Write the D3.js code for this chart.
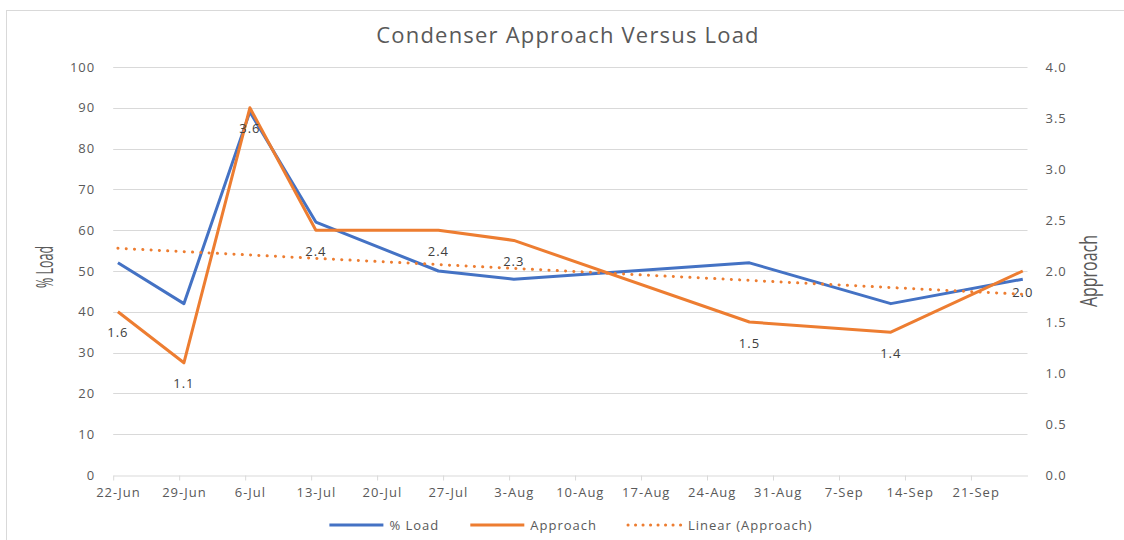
<!DOCTYPE html>
<html>
<head>
<meta charset="utf-8">
<script src="https://cdn.jsdelivr.net/npm/d3@7"></script>
<style>
  html, body { margin: 0; padding: 0; background: #fff; }
  text { font-family: "Open Sans", sans-serif; fill: #595959; }
  .tick line { stroke: #d9d9d9; }
  .grid line { stroke: #d9d9d9; stroke-width: 1; }
  .axis-title { font-family: "Open Sans", sans-serif; }
</style>
</head>
<body>
<svg id="chart" width="1124" height="540"></svg>
<script>
// Condenser approach vs load, weekly readings

// Data
var dates = [ '2021-06-22', '2021-06-29', '2021-07-06', '2021-07-13', '2021-07-26',
  '2021-08-03', '2021-08-28', '2021-09-12', '2021-09-26' ];
var loadPct = [ 52, 42, 89, 62, 50, 48, 52, 42, 48 ];
var approach = [ 1.6, 1.1, 3.6, 2.4, 2.4, 2.3, 1.5, 1.4, 2.0 ];
var axisStart = '2021-06-22';
var axisEnd = '2021-09-27';
var leftTicks = d3.range( 0, 101, 10 );
var rightTicks = d3.range( 0, 4.01, 0.5 );
var seriesNames = [ '% Load', 'Approach', 'Linear (Approach)' ];

var blue = '#4472c4';
var orange = '#ed7d31';

var svg = d3.select( '#chart' );

// Chart border
svg.append( 'rect' )
  .attr( 'x', 6.5 ).attr( 'y', 10.5 )
  .attr( 'width', 1130 ).attr( 'height', 540 )
  .attr( 'fill', 'none' )
  .attr( 'stroke', '#d9d9d9' );

var plot = { left: 113.2, right: 1027.5, top: 67, bottom: 475 };

var parse = d3.utcParse( '%Y-%m-%d' );
var x = d3.scaleUtc()
  .domain( [ parse( axisStart ), parse( axisEnd ) ] )
  .range( [ plot.left, plot.right ] );
var yL = d3.scaleLinear().domain( [ 0, 100 ] ).range( [ plot.bottom, plot.top ] );
var yR = d3.scaleLinear().domain( [ 0, 4 ] ).range( [ plot.bottom, plot.top ] );

// Points sit in the middle of their day slot
function mid( s ) {
  return new Date( parse( s ).getTime() + 12 * 3600 * 1000 );
}
var halfDay = x( mid( axisStart ) ) - x( parse( axisStart ) );

var rows = dates.map( function( d, i ) {
  return { date: mid( d ), load: loadPct[ i ], appr: approach[ i ] };
} );

// Title
svg.append( 'text' )
  .attr( 'x', 568 ).attr( 'y', 43 )
  .attr( 'text-anchor', 'middle' )
  .style( 'font-size', '22px' )
  .style( 'letter-spacing', '1.2px' )
  .text( 'Condenser Approach Versus Load' );

// Gridlines
svg.append( 'g' )
  .attr( 'class', 'grid' )
  .selectAll( 'line' )
  .data( leftTicks.slice( 1 ) )
  .enter().append( 'line' )
  .attr( 'x1', plot.left ).attr( 'x2', plot.right )
  .attr( 'y1', function( d ) { return Math.round( yL( d ) ) + 0.5; } )
  .attr( 'y2', function( d ) { return Math.round( yL( d ) ) + 0.5; } );

// Left axis
var gL = svg.append( 'g' )
  .attr( 'transform', 'translate(' + plot.left + ',0)' )
  .call( d3.axisLeft( yL ).tickValues( leftTicks ).tickSize( 0 ).tickPadding( 18 ) );
gL.select( '.domain' ).remove();

// Right axis
var gR = svg.append( 'g' )
  .attr( 'transform', 'translate(' + plot.right + ',0)' )
  .call( d3.axisRight( yR ).tickValues( rightTicks ).tickFormat( d3.format( '.1f' ) )
    .tickSize( 0 ).tickPadding( 18 ) );
gR.select( '.domain' ).remove();

[ gL, gR ].forEach( function( g ) {
  g.selectAll( 'text' )
    .style( 'font-size', '13px' )
    .style( 'letter-spacing', '1px' )
    .attr( 'fill', '#595959' );
} );

// Bottom axis, weekly ticks
var weekTicks = d3.utcDay.range( parse( axisStart ), parse( axisEnd ), 7 );
var gX = svg.append( 'g' )
  .attr( 'transform', 'translate(0,' + ( plot.bottom + 0.5 ) + ')' )
  .call( d3.axisBottom( x ).tickValues( weekTicks ).tickFormat( d3.utcFormat( '%-d-%b' ) )
    .tickSize( 5 ).tickSizeOuter( 0 ).tickPadding( 7 ) );
gX.select( '.domain' ).attr( 'stroke', '#d9d9d9' );
gX.selectAll( 'text' )
  .attr( 'x', halfDay )
  .attr( 'fill', '#595959' )
  .style( 'font-size', '13px' )
  .style( 'letter-spacing', '1px' );

// Axis titles (condensed, as in the original)
svg.append( 'text' )
  .attr( 'class', 'axis-title' )
  .attr( 'transform', 'translate(53,267) rotate(-90)' )
  .attr( 'text-anchor', 'middle' )
  .attr( 'textLength', 42 )
  .attr( 'lengthAdjust', 'spacingAndGlyphs' )
  .style( 'font-size', '23px' )
  .text( '% Load' );

svg.append( 'text' )
  .attr( 'class', 'axis-title' )
  .attr( 'transform', 'translate(1097,271) rotate(-90)' )
  .attr( 'text-anchor', 'middle' )
  .attr( 'textLength', 72 )
  .attr( 'lengthAdjust', 'spacingAndGlyphs' )
  .style( 'font-size', '23px' )
  .text( 'Approach' );

// Linear trendline on Approach (least squares over the dates)
var xs = rows.map( function( d ) { return d.date.getTime(); } );
var ys = rows.map( function( d ) { return d.appr; } );
var mx = d3.mean( xs ), my = d3.mean( ys );
var sxy = d3.sum( xs, function( v, i ) { return ( v - mx ) * ( ys[ i ] - my ); } );
var sxx = d3.sum( xs, function( v ) { return ( v - mx ) * ( v - mx ); } );
var slope = sxy / sxx;
var trend = [ xs[ 0 ], xs[ xs.length - 1 ] ].map( function( t ) {
  return { date: new Date( t ), appr: my + slope * ( t - mx ) };
} );

var lineLoad = d3.line()
  .x( function( d ) { return x( d.date ); } )
  .y( function( d ) { return yL( d.load ); } );
var lineAppr = d3.line()
  .x( function( d ) { return x( d.date ); } )
  .y( function( d ) { return yR( d.appr ); } );

svg.append( 'path' )
  .datum( rows )
  .attr( 'd', lineLoad )
  .attr( 'fill', 'none' )
  .attr( 'stroke', blue )
  .attr( 'stroke-width', 3 )
  .attr( 'stroke-linejoin', 'round' );

svg.append( 'path' )
  .datum( rows )
  .attr( 'd', lineAppr )
  .attr( 'fill', 'none' )
  .attr( 'stroke', orange )
  .attr( 'stroke-width', 3 )
  .attr( 'stroke-linejoin', 'round' );

svg.append( 'path' )
  .datum( trend )
  .attr( 'd', lineAppr )
  .attr( 'fill', 'none' )
  .attr( 'stroke', orange )
  .attr( 'stroke-width', 3 )
  .attr( 'stroke-linecap', 'round' )
  .attr( 'stroke-dasharray', '0.1 8.2' );

// Data labels under the Approach points
svg.append( 'g' )
  .selectAll( 'text' )
  .data( rows )
  .enter().append( 'text' )
  .attr( 'x', function( d ) { return x( d.date ); } )
  .attr( 'y', function( d ) { return yR( d.appr ) + 21; } )
  .attr( 'dy', '.35em' )
  .attr( 'text-anchor', 'middle' )
  .style( 'font-size', '13px' )
  .style( 'letter-spacing', '1px' )
  .style( 'fill', '#404040' )
  .text( function( d ) { return d3.format( '.1f' )( d.appr ); } );

// Legend
var legend = svg.append( 'g' ).attr( 'transform', 'translate(0,525)' );
var legendStyles = [
  { color: blue, dash: null },
  { color: orange, dash: null },
  { color: orange, dash: '0.1 7.4' }
];
var items = legend.selectAll( 'g' )
  .data( seriesNames )
  .enter().append( 'g' );
items.append( 'line' )
  .attr( 'x1', 0 ).attr( 'x2', 54 )
  .attr( 'stroke', function( d, i ) { return legendStyles[ i ].color; } )
  .attr( 'stroke-width', 3 )
  .attr( 'stroke-linecap', function( d, i ) { return legendStyles[ i ].dash ? 'round' : 'butt'; } )
  .attr( 'stroke-dasharray', function( d, i ) { return legendStyles[ i ].dash; } );
items.append( 'text' )
  .attr( 'x', 60 )
  .attr( 'dy', '.35em' )
  .style( 'font-size', '13px' )
  .style( 'letter-spacing', '1px' )
  .text( function( d ) { return d; } );

var offsets = [];
var cursor = 0;
items.each( function() {
  offsets.push( cursor );
  cursor += 60 + this.querySelector( 'text' ).getComputedTextLength() + 31;
} );
var total = cursor - 31;
var startX = 571 - total / 2;
items.attr( 'transform', function( d, i ) {
  return 'translate(' + ( startX + offsets[ i ] ) + ',0)';
} );
</script>
</body>
</html>
